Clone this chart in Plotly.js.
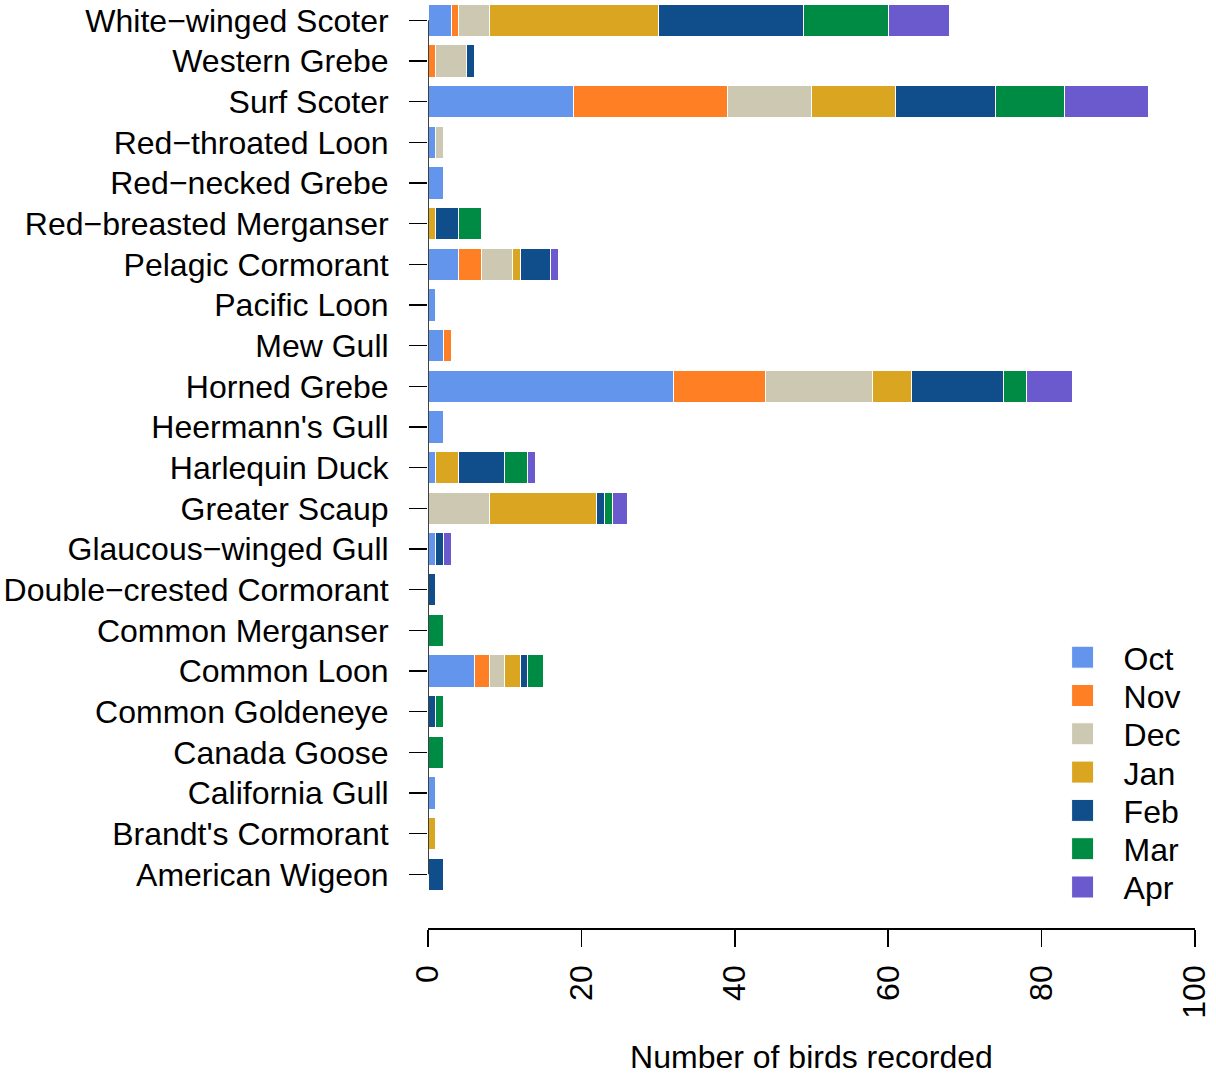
<!DOCTYPE html>
<html>
<head>
<meta charset="utf-8">
<script src="https://cdn.plot.ly/plotly-3.0.1.min.js"></script>
<style>html,body{margin:0;padding:0;background:#fff;}#chart{width:1216px;height:1075px;}</style>
</head>
<body>
<div id="chart"></div>
<script>
// Species from bottom (American Wigeon) to top (White-winged Scoter)
const species = ["American Wigeon","Brandt's Cormorant","California Gull","Canada Goose","Common Goldeneye","Common Loon","Common Merganser","Double\u2212crested Cormorant","Glaucous\u2212winged Gull","Greater Scaup","Harlequin Duck","Heermann's Gull","Horned Grebe","Mew Gull","Pacific Loon","Pelagic Cormorant","Red\u2212breasted Merganser","Red\u2212necked Grebe","Red\u2212throated Loon","Surf Scoter","Western Grebe","White\u2212winged Scoter"];
const months = ["Oct","Nov","Dec","Jan","Feb","Mar","Apr"];
const oct = [0,0,1,0,0,6,0,0,1,0,1,2,32,2,1,4,0,2,1,19,0,3];
const nov = [0,0,0,0,0,2,0,0,0,0,0,0,12,1,0,3,0,0,0,20,1,1];
const dec = [0,0,0,0,0,2,0,0,0,8,0,0,14,0,0,4,0,0,1,11,4,4];
const jan = [0,1,0,0,0,2,0,0,0,14,3,0,5,0,0,1,1,0,0,11,0,22];
const feb = [2,0,0,0,1,1,0,1,1,1,6,0,12,0,0,4,3,0,0,13,1,19];
const mar = [0,0,0,2,1,2,2,0,0,1,3,0,3,0,0,0,3,0,0,9,0,11];
const apr = [0,0,0,0,0,0,0,0,1,2,1,0,6,0,0,1,0,0,0,11,0,8];
const xTicks = [0,20,40,60,80,100];
const colors = ["#6495ED","#FF7F24","#CDC8B1","#DAA520","#104E8B","#008B45","#6A5ACD"];

const series = [oct,nov,dec,jan,feb,mar,apr];
const FONT = "Liberation Sans, Arial, Helvetica, sans-serif";
const traces = series.map((vals,i)=>({
  type:"bar", orientation:"h", name:months[i], x:vals, y:species,
  width:0.8,
  marker:{color:colors[i], line:{color:"#ffffff", width:1}},
  hoverinfo:"x+y+name"
}));

const layout = {
  width:1216, height:1075,
  margin:{l:428, r:21, t:0, b:147, pad:0},
  paper_bgcolor:"#fff", plot_bgcolor:"#fff",
  barmode:"stack", bargap:0.2,
  font:{family:FONT, size:32, color:"#000"},
  showlegend:true,
  legend:{x:0.8, xanchor:"left", y:0.318, yanchor:"top", traceorder:"normal",
          font:{family:FONT, size:32, color:"#000"}, itemwidth:72,
          bgcolor:"rgba(0,0,0,0)", borderwidth:0, tracegroupgap:0},
  xaxis:{range:[0,100], tickvals:xTicks, ticktext:xTicks.map(String),
         tickangle:-90, ticks:"outside", ticklen:17, tickwidth:1.5, tickcolor:"#000",
         showline:true, linecolor:"#000", linewidth:1.5, showgrid:false, zeroline:false,
         ticklabelstandoff:6,
         tickfont:{family:FONT, size:32},
         title:{text:"Number of birds recorded", font:{family:FONT, size:32}, standoff:37}},
  yaxis:{type:"category", categoryorder:"array", categoryarray:species,
         range:[-1.32, 21.5], ticks:"outside", ticklen:18, tickwidth:1.5, tickcolor:"#000",
         showline:false, showgrid:false, zeroline:false, ticklabelstandoff:14,
         tickfont:{family:FONT, size:32}},
  shapes:[{type:"line", xref:"x", yref:"y", x0:0, x1:0, y0:0, y1:species.length-1,
           line:{color:"#000", width:1.5}}]
};

Plotly.newPlot("chart", traces, layout, {displayModeBar:false, staticPlot:true}).then(()=>{
  document.querySelectorAll(".legend .legendpoints path").forEach(p=>{
    p.setAttribute("d","M11,11H-11V-11H11Z");
  });
  // tighten legend row spacing to match the reference
  const items = Array.from(document.querySelectorAll(".legend g.traces"));
  const parse = t => { const m = /translate\(\s*([-\d.]+)[ ,]+([-\d.]+)/.exec(t||""); return m ? [parseFloat(m[1]), parseFloat(m[2])] : [0,0]; };
  if (items.length) {
    const [x0, y0] = parse(items[0].getAttribute("transform"));
    items.forEach((g,i)=>{
      const [x] = parse(g.getAttribute("transform"));
      g.setAttribute("transform", "translate(" + x + "," + (y0 - 3 + i*38.3) + ")");
    });
  }
});
</script>
</body>
</html>
